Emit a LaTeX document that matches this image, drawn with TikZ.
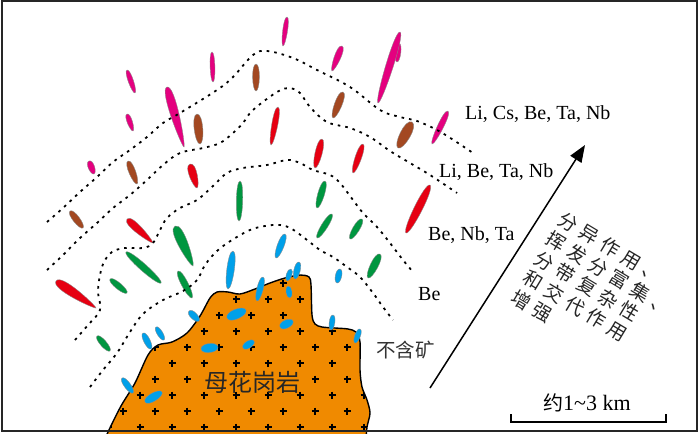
\documentclass[tikz,border=0pt]{standalone}
\usepackage{fontspec}
\setmainfont{Liberation Serif}
\newfontfamily\cjk{Noto Sans CJK SC}
\usetikzlibrary{calc,arrows.meta}
\definecolor{pk}{RGB}{228,0,127}
\definecolor{bn}{RGB}{163,72,33}
\definecolor{rd}{RGB}{230,0,18}
\definecolor{gn}{RGB}{0,150,64}
\definecolor{bl}{RGB}{0,160,233}
\definecolor{gr}{RGB}{240,138,0}
% vein: colour, thick end, thin end, control offsets
\newcommand\vein[5]{\filldraw[veinst, fill=#1] (#2)
  .. controls ($(#2)!#4pt!90:(#3)$) and ($(#3)!#5pt!-90:(#2)$) .. (#3)
  .. controls ($(#3)!#5pt!90:(#2)$) and ($(#2)!#4pt!-90:(#3)$) .. cycle;}
\newcommand\zz[1]{\makebox[24.6pt][c]{#1}}
\newcommand\gpath{plot[smooth,tension=0.5] coordinates {(105,440) (108,432) (121,406) (135,383) (148,355) (158,345) (172,342) (187,333) (200,316) (210,298) (217,292) (228,292) (240,294) (255,289) (270,283) (285,278) (300,275) (309,277) (311,285) (312,315) (315,324) (322,327) (335,328) (348,329) (356,332) (360,342) (360,370) (362,387) (367,400) (370,413) (367,427) (366,440)} -- cycle}
\begin{document}
\begin{tikzpicture}[x=1pt,y=-1pt,
  veinst/.style={draw=black!45, line width=0.35pt},
  zone/.style={line width=1.8pt, dash pattern=on 2.6pt off 5pt, black},
  plusst/.style={line width=1.1pt, black},
  lab/.style={font=\fontsize{20}{20}\selectfont, anchor=base west, inner sep=0pt},
  rtext/.style={font=\cjk\fontsize{19}{19}\selectfont, rotate=-31, anchor=west, inner sep=0pt, text=black!85}]
\useasboundingbox (0,0) rectangle (700,433);
\fill[white] (0,0) rectangle (700,433);
% granite
\filldraw[fill=gr, draw=black, line width=1.4pt] \gpath;
\begin{scope}
\clip \gpath;
\foreach \i in {0,...,9}{
  \pgfmathtruncatemacro\yy{283+16*\i}
  \pgfmathtruncatemacro\xo{mod(\i,2)==1 ? 12 : 27}
  \foreach \k in {1,...,11}{
    \pgfmathtruncatemacro\xx{\xo+32*\k}
    \pgfmathtruncatemacro\skp{(\i==6)&&(\xx>200)&&(\xx<300)}
    \ifnum\skp=0 \draw[plusst] (\xx-3.5,\yy) -- (\xx+3.5,\yy) (\xx,\yy-3.5) -- (\xx,\yy+3.5);\fi
  }
}
\end{scope}
\node[font=\cjk\fontsize{24}{24}\selectfont, anchor=base, inner sep=0pt, text=black!85] (granite) at (252,391) {母花岗岩};
% pink veins
\vein{pk}{287,17}{283,46}{4}{2.5}
\vein{pk}{342,46}{332,71}{6}{2.5}
\vein{pk}{212,52}{213,82}{3.5}{3}
\vein{pk}{127,70}{135,93}{4}{3}
\vein{pk}{167,87}{184,147}{9}{2}
\vein{pk}{127,114}{133,131}{4.5}{2.5}
\vein{pk}{89,161}{94,174}{5}{3.5}
\vein{pk}{399,43}{397,62}{4}{3.5}
\vein{pk}{400,32}{378,103}{6}{4}
\vein{pk}{448,111}{432,144}{5}{3}
% brown veins
\vein{bn}{256,64}{256,91}{5}{4}
\vein{bn}{343,92}{333,118}{6}{4}
\vein{bn}{197,114}{200,144}{6.5}{5}
\vein{bn}{128,161}{137,184}{5.5}{3.5}
\vein{bn}{70,211}{83,228}{5}{4}
\vein{bn}{412,122}{398,148}{8}{6}
% red veins
\vein{rd}{278,107}{271,145}{5}{3}
\vein{rd}{322,139}{315,168}{5.5}{4}
\vein{rd}{190,164}{197,188}{7.5}{3}
\vein{rd}{363,144}{353,173}{5}{3.5}
\vein{rd}{430,185}{406,233}{6}{5}
\vein{rd}{127,219}{153,243}{8}{1.5}
\vein{rd}{56,281}{96,308}{10}{1.5}
% green veins
\vein{gn}{240,181}{239,221}{4.5}{4}
\vein{gn}{175,226}{193,266}{10}{2.5}
\vein{gn}{126,252}{161,283}{5}{4.5}
\vein{gn}{110,279}{127,293}{4.5}{4}
\vein{gn}{178,271}{192,298}{5}{4}
\vein{gn}{97,336}{110,351}{4.5}{4}
\vein{gn}{325,181}{317,208}{5}{4}
\vein{gn}{332,214}{317,238}{4.5}{4}
\vein{gn}{362,219}{350,239}{5}{4}
\vein{gn}{380,254}{368,278}{6}{4.5}
% blue veins
\vein{bl}{285,234}{276,258}{5}{4}
\vein{bl}{233,251}{228,289}{5.5}{4.5}
\vein{bl}{299,262}{295,279}{4.5}{4}
\vein{bl}{291,269}{287,281}{4}{3.5}
\vein{bl}{288,286}{290,298}{4}{4}
\vein{bl}{263,277}{257,301}{4.5}{4}
\vein{bl}{340,269}{337,283}{4.5}{4}
\vein{bl}{333,315}{331,330}{4}{3.5}
\vein{bl}{360,329}{355,343}{4}{3.5}
\vein{bl}{189,311}{199,321}{5}{4}
\vein{bl}{227,318}{246,310}{7}{6}
\vein{bl}{280,327}{293,321}{6}{5}
\vein{bl}{156,327}{164,340}{4}{3.5}
\vein{bl}{143,333}{151,349}{4.5}{4}
\vein{bl}{201,349}{218,347}{6}{6}
\vein{bl}{243,348}{254,341}{5}{4.5}
\vein{bl}{122,378}{133,393}{4.5}{4}
\vein{bl}{145,402}{162,392}{6}{5}
% zone boundaries
\draw[zone] plot[smooth,tension=0.6] coordinates {(47,222) (63,208) (80,192) (97,177) (113,162) (130,150) (147,137) (163,123) (180,113) (217,90) (233,77) (253,55) (267,51) (293,58) (317,70) (350,87) (380,110) (400,117) (417,121) (437,130) (455,141) (473,153)};
\draw[zone] plot[smooth,tension=0.6] coordinates {(47,270) (63,255) (80,238) (97,223) (113,208) (130,195) (147,180) (163,165) (180,153) (203,148) (220,143) (233,133) (243,123) (253,110) (277,92) (290,88) (300,93) (310,107) (327,122) (350,128) (370,137) (390,151) (410,163) (430,175) (457,193)};
\draw[zone] plot[smooth,tension=0.6] coordinates {(75,340) (88,325) (100,310) (98,292) (100,275) (104,262) (112,252) (125,248) (143,248) (153,243) (160,230) (167,218) (180,208) (197,200) (213,186) (227,173) (243,168) (267,165) (287,160) (300,163) (313,170) (330,175) (340,183) (353,200) (363,213) (377,227) (390,243) (403,260) (413,272)};
\draw[zone] plot[smooth,tension=0.6] coordinates {(90,387) (103,370) (117,353) (130,332) (143,314) (163,300) (183,291) (197,280) (205,265) (217,251) (232,240) (250,230) (265,226) (280,225) (292,229) (307,240) (320,250) (333,257) (347,267) (360,277) (373,293) (383,307) (393,320)};
% zone labels
\node[lab] (z1) at (465,119) {Li, Cs, Be, Ta, Nb};
\node[lab] (z2) at (439,177) {Li, Be, Ta, Nb};
\node[lab] (z3) at (428,240) {Be, Nb, Ta};
\node[lab] (z4) at (418,300) {Be};
\node[lab, font=\cjk\fontsize{19.5}{19.5}\selectfont, text=black!80] (z5) at (376,357) {不含矿};
% arrow
\coordinate (arrS) at (430,388);
\coordinate (arrE) at (585,145);
\draw[line width=1.5pt, -{Triangle[length=17pt,width=13pt]}] (arrS) -- (arrE);
% rotated text
\node[rtext] (t1) at (557.5,215.4) {\zz{分}\zz{异}\zz{作}\zz{用}\zz{、}};
\node[rtext] (t2) at (545.7,234.9) {\zz{挥}\zz{发}\zz{分}\zz{富}\zz{集}\zz{、}};
\node[rtext] (t3) at (534.0,254.5) {\zz{分}\zz{带}\zz{复}\zz{杂}\zz{性}};
\node[rtext] (t4) at (522.3,274.0) {\zz{和}\zz{交}\zz{代}\zz{作}\zz{用}};
\node[rtext] (t5) at (510.5,293.6) {\zz{增}\zz{强}};
% scale bar
\node[lab, font=\fontsize{22}{22}\selectfont] (sc) at (543,410) {{\cjk\fontsize{20}{20}\selectfont 约}1\textasciitilde 3 km};
\coordinate (sbL) at (511,414);
\coordinate (sbR) at (666,414);
\draw[line width=1.3pt] (sbL) -- ++(0,8) -| (sbR);
% frame
\draw[line width=2pt, black!85] (1.5,1.5) rectangle (697,430.5);
\end{tikzpicture}
\end{document}
